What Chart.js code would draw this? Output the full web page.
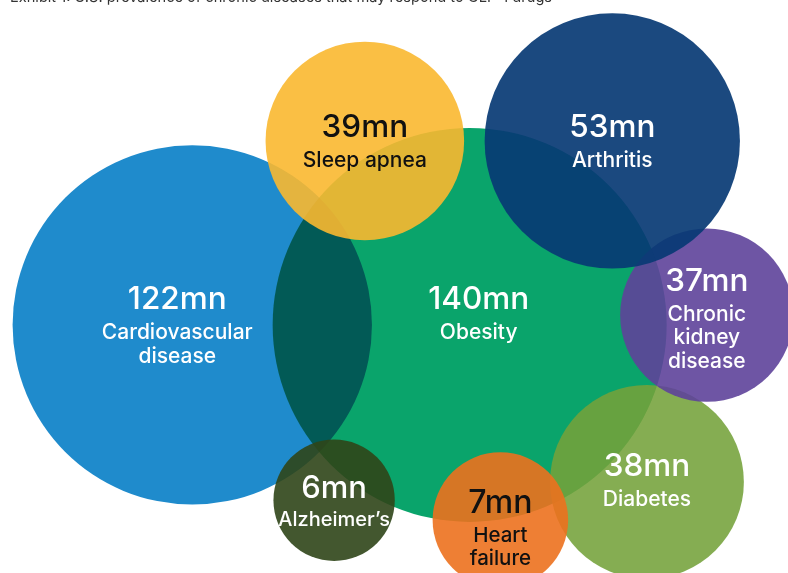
<!DOCTYPE html>
<html>
<head>
<meta charset="utf-8">
<script src="https://cdn.jsdelivr.net/npm/chart.js@4.4.1/dist/chart.umd.min.js"></script>
<style>
  html, body { margin: 0; padding: 0; background: #ffffff; }
  #wrap { position: relative; width: 788px; height: 573px; overflow: hidden; }
  #c { display: block; }
</style>
</head>
<body>
<div id="wrap"><canvas id="c" width="788" height="573"></canvas></div>
<script>
// ---- data ----
const title = 'Exhibit 1: U.S. prevalence of chronic diseases that may respond to GLP-1 drugs';
const categories = ['Cardiovascular disease', 'Obesity', 'Sleep apnea', 'Arthritis', 'Chronic kidney disease', 'Diabetes', 'Alzheimer\u2019s', 'Heart failure'];
const labelLines = [['Cardiovascular', 'disease'], ['Obesity'], ['Sleep apnea'], ['Arthritis'], ['Chronic', 'kidney', 'disease'], ['Diabetes'], ['Alzheimer\u2019s'], ['Heart', 'failure']];
const valuesMn = [122, 140, 39, 53, 37, 38, 6, 7];
const bubbleX = [24.4, 59.6, 46.3, 77.7, 89.7, 82.1, 42.4, 63.5];
const bubbleY = [43.3, 43.3, 75.4, 75.4, 45.0, 15.9, 12.7, 9.25];
const bubbleSize = [22.8, 25.0, 12.6, 16.2, 11.0, 12.3, 7.7, 8.6];

// ---- styles ----
const CANVAS_W = 788;
const fills = ['#1f8bcc', '#0aa46b', 'rgba(250,184,48,0.9)', 'rgba(8,58,116,0.92)', 'rgba(94,66,154,0.9)', 'rgba(116,162,58,0.88)', 'rgba(47,69,24,0.9)', 'rgba(236,113,30,0.9)'];
const drawOrder = [8, 7, 4, 2, 3, 3, 1, 1];
const textColors = ['#fff', '#fff', '#111', '#fff', '#fff', '#fff', '#fff', '#111'];
const valueFont = [31.5, 31.5, 31.5, 31.5, 31.5, 31.5, 31, 32];
const labelFont = [21, 21, 21, 21, 21, 21, 20, 20.5];
const valueDx = [-15, 9, 0, 0, 0, 0, 0, 0];
const valueDy = [-25, -25, -13, -13, -34, -15, -12, -17];
const blend = [null, 'multiply', null, null, null, null, null, null];

// bubble radius: size in x-axis units converted to pixels (x axis spans 0..100 over the full width)
const datasets = categories.map((cat, i) => ({
  label: cat,
  data: [{ x: bubbleX[i], y: bubbleY[i], r: bubbleSize[i] * CANVAS_W / 100 }],
  backgroundColor: fills[i],
  borderWidth: 0,
  hoverBorderWidth: 0,
  order: drawOrder[i]
}));

const blendPlugin = {
  id: 'blend',
  beforeDatasetDraw(chart, args) {
    const b = blend[args.index];
    chart.ctx.save();
    if (b) chart.ctx.globalCompositeOperation = b;
  },
  afterDatasetDraw(chart) {
    chart.ctx.restore();
  }
};

const labelPlugin = {
  id: 'bubbleLabels',
  afterDatasetsDraw(chart) {
    const ctx = chart.ctx;
    ctx.save();
    ctx.textAlign = 'center';
    ctx.textBaseline = 'middle';
    categories.forEach((cat, i) => {
      const el = chart.getDatasetMeta(i).data[0];
      if (!el) return;
      const cx = el.x + valueDx[i], cy = el.y;
      ctx.fillStyle = textColors[i];
      let y = cy + valueDy[i];
      ctx.font = '500 ' + valueFont[i] + 'px Inter, "Open Sans", sans-serif';
      ctx.fillText(valuesMn[i] + 'mn', cx, y);
      y += valueFont[i] * 0.55 + labelFont[i] * 0.75;
      ctx.font = '500 ' + labelFont[i] + 'px Inter, "Open Sans", sans-serif';
      labelLines[i].forEach((ln) => {
        ctx.fillText(ln, cx, y);
        y += labelFont[i] * 1.14;
      });
    });
    // clipped exhibit title at the very top
    ctx.textAlign = 'left';
    ctx.textBaseline = 'alphabetic';
    ctx.fillStyle = '#333';
    ctx.font = '400 14.6px Inter, "Open Sans", sans-serif';
    ctx.fillText(title, 10, 2);
    ctx.restore();
  }
};

new Chart(document.getElementById('c'), {
  type: 'bubble',
  data: { datasets },
  options: {
    responsive: false,
    animation: false,
    events: [],
    layout: { padding: 0, autoPadding: false },
    clip: false,
    plugins: { legend: { display: false }, tooltip: { enabled: false }, title: { display: false } },
    scales: {
      x: { type: 'linear', min: 0, max: 100, display: false },
      y: { type: 'linear', min: 0, max: 100, display: false }
    }
  },
  plugins: [blendPlugin, labelPlugin]
});
</script>
</body>
</html>
